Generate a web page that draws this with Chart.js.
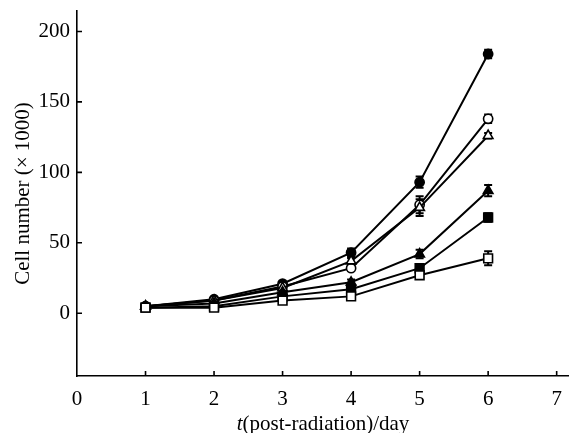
<!DOCTYPE html>
<html><head><meta charset="utf-8">
<script src="https://cdn.jsdelivr.net/npm/chart.js@4"></script>
<style>html,body{margin:0;padding:0;background:#fff}</style>
</head><body>
<canvas id="c" width="569" height="433"></canvas>
<script>
// ---- data ----
const days = [1, 2, 3, 4, 5, 6];
const filledCircle   = [5, 10, 21, 43, 93, 184];
const openCircle     = [5, 9, 19, 32, 77, 138];
const openTriangle   = [5, 9, 18, 37, 75, 126];
const filledTriangle = [5, 7, 15, 22, 42, 87];
const filledSquare   = [4, 5, 12, 17, 32, 68];
const openSquare     = [4, 4, 9, 12, 27, 39];
const filledCircleErr   = [1, 1, 1, 3, 4, 3];
const openCircleErr     = [1, 1, 1, 2, 6, 3];
const openTriangleErr   = [1, 1, 1, 2, 6, 2];
const filledTriangleErr = [1, 1, 1, 2, 3, 4];
const filledSquareErr   = [1, 1, 1, 1, 2, 3];
const openSquareErr     = [1, 1, 1, 1, 1, 5];
const xTicks = [0, 1, 2, 3, 4, 5, 6, 7];
const yTicks = [0, 50, 100, 150, 200];
const yTitle = 'Cell number (\u00d7 1000)';
const xTitleItalic = 't';
const xTitleRest = '(post-radiation)/day';

const FONT = '"Liberation Serif", "Times New Roman", serif';
const FS = 21;

function mk(values, errs, style, fill) {
  return {
    data: days.map((d, i) => ({x: d, y: values[i]})),
    errs: errs,
    borderColor: '#000', borderWidth: 2,
    pointStyle: style,
    pointRadius: style === 'rect' ? 6.2 : (style === 'triangle' ? 5.5 : 4.6),
    pointBackgroundColor: fill, pointBorderColor: '#000', pointBorderWidth: 1.6,
    showLine: true, fill: false, tension: 0
  };
}

const errorBars = {
  id: 'errorBars',
  beforeDatasetsDraw(chart) {
    const ctx = chart.ctx, xs = chart.scales.x, ys = chart.scales.y;
    ctx.save();
    ctx.strokeStyle = '#000'; ctx.lineWidth = 2;
    chart.data.datasets.forEach(ds => {
      ds.data.forEach((p, i) => {
        const e = ds.errs[i];
        const px = xs.getPixelForValue(p.x);
        const y1 = ys.getPixelForValue(p.y + e), y2 = ys.getPixelForValue(p.y - e);
        ctx.beginPath();
        ctx.moveTo(px, y1); ctx.lineTo(px, y2);
        ctx.moveTo(px - 4, y1); ctx.lineTo(px + 4, y1);
        ctx.moveTo(px - 4, y2); ctx.lineTo(px + 4, y2);
        ctx.stroke();
      });
    });
    ctx.restore();
  }
};

const ticksIn = {
  id: 'ticksIn',
  afterDraw(chart) {
    const ctx = chart.ctx, xs = chart.scales.x, ys = chart.scales.y, a = chart.chartArea;
    ctx.save();
    ctx.strokeStyle = '#000'; ctx.lineWidth = 1.6;
    ctx.beginPath();
    xTicks.forEach(v => { if (v === 0) return; const px = xs.getPixelForValue(v); ctx.moveTo(px, a.bottom); ctx.lineTo(px, a.bottom - 5); });
    yTicks.forEach(v => { const py = ys.getPixelForValue(v); ctx.moveTo(a.left, py); ctx.lineTo(a.left + 5, py); });
    ctx.stroke();
    // x title with italic t
    ctx.fillStyle = '#000';
    ctx.textBaseline = 'alphabetic';
    ctx.font = 'italic ' + FS + 'px ' + FONT;
    const w1 = ctx.measureText(xTitleItalic).width;
    ctx.font = FS + 'px ' + FONT;
    const w2 = ctx.measureText(xTitleRest).width;
    const cx = (a.left + a.right) / 2;
    const x0 = cx - (w1 + w2) / 2;
    const base = 430;
    ctx.font = 'italic ' + FS + 'px ' + FONT;
    ctx.fillText(xTitleItalic, x0, base);
    ctx.font = FS + 'px ' + FONT;
    ctx.fillText(xTitleRest, x0 + w1, base);
    ctx.restore();
  }
};

new Chart(document.getElementById('c'), {
  type: 'scatter',
  data: {
    datasets: [
      mk(openSquare, openSquareErr, 'rect', '#fff'),
      mk(filledSquare, filledSquareErr, 'rect', '#000'),
      mk(filledTriangle, filledTriangleErr, 'triangle', '#000'),
      mk(openTriangle, openTriangleErr, 'triangle', '#fff'),
      mk(openCircle, openCircleErr, 'circle', '#fff'),
      mk(filledCircle, filledCircleErr, 'circle', '#000')
    ]
  },
  options: {
    responsive: false,
    devicePixelRatio: 1,
    animation: false,
    layout: {autoPadding: false, padding: {top: 11, right: 0, left: 0, bottom: 0}},
    plugins: {legend: {display: false}, tooltip: {enabled: false}},
    scales: {
      x: {
        type: 'linear', min: 0, max: 7.18,
        afterFit(s) { s.height = 57; s.paddingLeft = 0; s.paddingRight = 0; },
        afterBuildTicks(s) { s.ticks = xTicks.map(v => ({value: v})); },
        grid: {display: false, drawTicks: false},
        border: {display: true, color: '#000', width: 1.6},
        ticks: {color: '#000', padding: 11, font: {family: FONT, size: FS}, maxRotation: 0, autoSkip: false}
      },
      y: {
        type: 'linear', min: -44.5, max: 214.5,
        afterFit(s) { s.width = 77; s.paddingTop = 0; s.paddingBottom = 0; },
        afterBuildTicks(s) { s.ticks = yTicks.map(v => ({value: v})); },
        grid: {display: false, drawTicks: false},
        border: {display: true, color: '#000', width: 1.6},
        ticks: {color: '#000', padding: 7, font: {family: FONT, size: FS}, autoSkip: false},
        title: {display: true, text: yTitle, color: '#000', font: {family: FONT, size: FS}, padding: {top: 11, bottom: 0}}
      }
    }
  },
  plugins: [errorBars, ticksIn]
});
</script>
</body></html>
